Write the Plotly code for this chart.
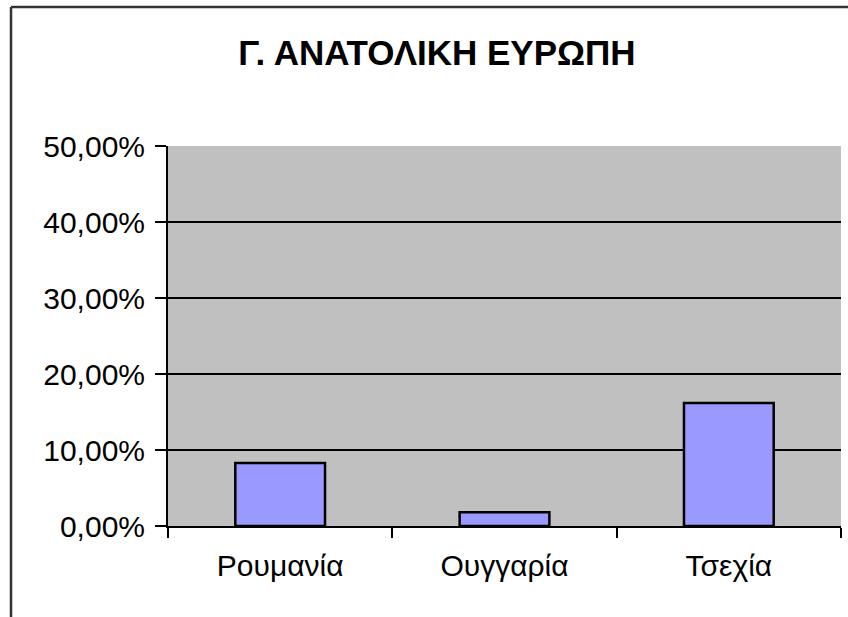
import plotly.graph_objects as go

categories = ["Ρουμανία", "Ουγγαρία", "Τσεχία"]
values = [0.083, 0.018, 0.162]
title_text = "Γ. ΑΝΑΤΟΛΙΚΗ ΕΥΡΩΠΗ"
y_ticks = [0.0, 0.1, 0.2, 0.3, 0.4, 0.5]

ML, MR, MT, MB = 168, 7, 146, 91
W, H = 848, 617
PW, PH = W - ML - MR, H - MT - MB

fig = go.Figure(
    go.Bar(
        x=categories,
        y=values,
        marker=dict(color="#9999FF", line=dict(color="black", width=2.5)),
    )
)

font = "Liberation Sans, Arial, sans-serif"

fig.update_layout(
    width=W,
    height=H,
    margin=dict(l=ML, r=MR, t=MT, b=MB, pad=0),
    paper_bgcolor="white",
    plot_bgcolor="#C0C0C0",
    separators=",.",
    bargap=0.6,
    showlegend=False,
    title=dict(
        text=title_text,
        x=437 / W,
        xref="container",
        xanchor="center",
        y=1 - 53 / H,
        yref="container",
        yanchor="middle",
        font=dict(family=font, size=35, color="black", weight="bold"),
    ),
    xaxis=dict(
        type="category",
        showgrid=False,
        showline=True,
        linecolor="black",
        linewidth=2,
        ticks="outside",
        tickson="boundaries",
        ticklen=10,
        tickwidth=2,
        tickcolor="black",
        tickfont=dict(family=font, size=30, color="black"),
        ticklabelstandoff=12,
    ),
    yaxis=dict(
        range=[0, 0.5],
        tickvals=y_ticks,
        tickformat=".2%",
        showgrid=True,
        gridcolor="black",
        gridwidth=2,
        zeroline=False,
        showline=True,
        linecolor="black",
        linewidth=2,
        ticks="outside",
        ticklen=11,
        tickwidth=2,
        tickcolor="black",
        tickfont=dict(family=font, size=30, color="black"),
        ticklabelstandoff=4,
    ),
)

# outer chart-area border (left and top edges visible in the reference)
bx0 = (11 - ML) / PW
by1 = 1 + (MT - 7) / PH
fig.add_shape(type="line", xref="paper", yref="paper", x0=bx0, x1=bx0, y0=by1, y1=-0.5,
              line=dict(color="#333333", width=2.5))
fig.add_shape(type="line", xref="paper", yref="paper", x0=bx0, x1=1.2, y0=by1, y1=by1,
              line=dict(color="#333333", width=2.5))

fig.write_html("out.html", config={"displayModeBar": False},
               post_script="document.body.style.margin='0';")
